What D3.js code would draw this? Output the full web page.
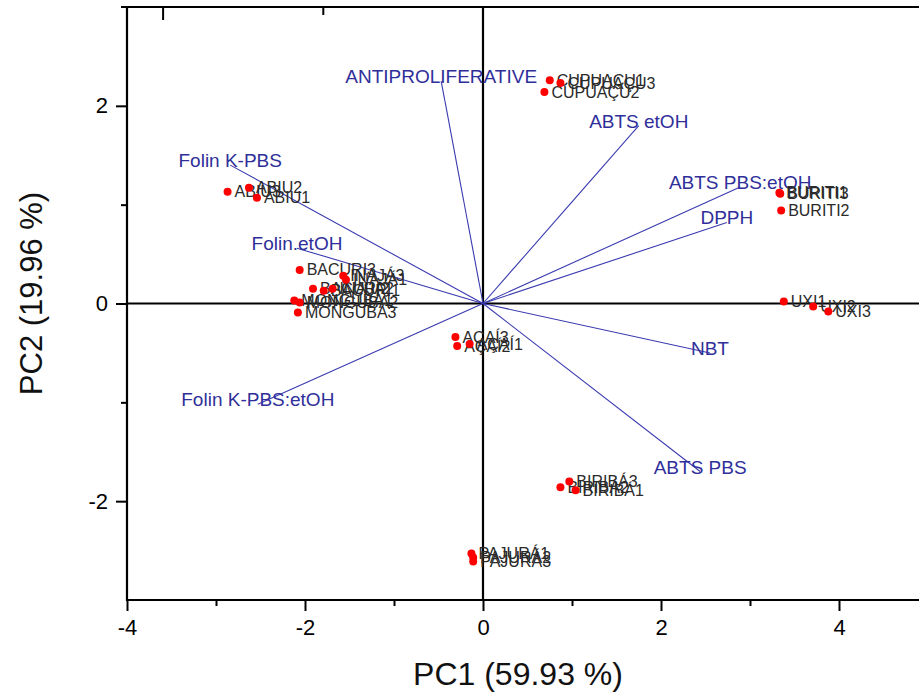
<!DOCTYPE html>
<html>
<head>
<meta charset="utf-8">
<script src="https://cdn.jsdelivr.net/npm/d3@7"></script>
<style>
  body { margin: 0; background: #fff; }
  svg { display: block; font-family: Arial, "Liberation Sans", sans-serif; }
</style>
</head>
<body>
<svg id="chart" width="919" height="700"></svg>
<script>
// PCA biplot: scores (fruits) + loadings (assays)

var obsNames = ["ABIU3", "ABIU2", "ABIU1",
  "CUPUAÇU1", "CUPUAÇU3", "CUPUAÇU2",
  "BURITI1", "BURITI3", "BURITI2",
  "UXI1", "UXI2", "UXI3",
  "AÇAÍ3", "AÇAÍ2", "AÇAÍ1",
  "BIRIBÁ3", "BIRIBÁ2", "BIRIBÁ1",
  "PAJURÁ1", "PAJURÁ2", "PAJURÁ3",
  "BACURI3", "INAJÁ3", "INAJÁ1", "BACURI2", "BACURI1", "INAJÁ2",
  "MONGUBA1", "MONGUBA2", "MONGUBA3"];
var obsPC1 = [-2.87, -2.63, -2.54,
  0.75, 0.87, 0.69,
  3.33, 3.34, 3.35,
  3.38, 3.71, 3.88,
  -0.31, -0.29, -0.15,
  0.97, 0.87, 1.04,
  -0.13, -0.11, -0.11,
  -2.06, -1.57, -1.54, -1.91, -1.79, -1.69,
  -2.12, -2.06, -2.08];
var obsPC2 = [1.13, 1.17, 1.07,
  2.26, 2.23, 2.14,
  1.12, 1.11, 0.94,
  0.02, -0.03, -0.08,
  -0.34, -0.43, -0.41,
  -1.80, -1.86, -1.89,
  -2.53, -2.57, -2.61,
  0.34, 0.28, 0.24, 0.15, 0.13, 0.15,
  0.03, 0.01, -0.09];

var varNames = ["ANTIPROLIFERATIVE", "ABTS etOH", "ABTS PBS:etOH", "DPPH", "NBT",
  "ABTS PBS", "Folin K-PBS:etOH", "Folin K-PBS", "Folin.etOH"];
var varPC1 = [-0.47, 1.75, 2.89, 2.74, 2.55, 2.44, -2.53, -2.84, -2.09];
var varPC2 = [2.25, 1.80, 1.18, 0.82, -0.50, -1.70, -1.02, 1.40, 0.56];

var xTicks = [-4, -2, 0, 2, 4];
var xMinor = [-3, -1, 1, 3];
var yTicks = [-2, 0, 2];
var yMinor = [-1, 1];

var svg = d3.select("#chart");
var margin = {left: 127, top: 7, right: 0, bottom: 100};
var width = 919, height = 700;

var x = d3.scaleLinear()
    .domain([-4, -4 + (width - margin.left) / 89])
    .range([margin.left, width]);
var y = d3.scaleLinear()
    .domain([-3, 3])
    .range([height - margin.bottom, margin.top]);

// plain hyphen for negatives, like the original
var fmt = function(d) { return String(d); };

// minor ticks first, so majors draw on top
svg.append("g")
    .attr("transform", "translate(0," + y(-3) + ")")
    .call(d3.axisBottom(x).tickValues(xMinor).tickSize(6).tickFormat(""))
    .call(function(g) { g.select(".domain").remove(); })
    .selectAll("line").attr("stroke-width", 2);

svg.append("g")
    .attr("transform", "translate(" + x(-4) + ",0)")
    .call(d3.axisLeft(y).tickValues(yMinor).tickSize(6).tickFormat(""))
    .call(function(g) { g.select(".domain").remove(); })
    .selectAll("line").attr("stroke-width", 2);

var gx = svg.append("g")
    .attr("transform", "translate(0," + y(-3) + ")")
    .call(d3.axisBottom(x).tickValues(xTicks).tickSize(11).tickPadding(8).tickFormat(fmt));
gx.select(".domain").remove();
gx.selectAll("line").attr("stroke-width", 2);
gx.selectAll("text").attr("font-size", 22).attr("fill", "#000")
    .attr("font-family", "Arial, 'Liberation Sans', sans-serif");

var gy = svg.append("g")
    .attr("transform", "translate(" + x(-4) + ",0)")
    .call(d3.axisLeft(y).tickValues(yTicks).tickSize(11).tickPadding(8).tickFormat(fmt));
gy.select(".domain").remove();
gy.selectAll("line").attr("stroke-width", 2);
gy.selectAll("text").attr("font-size", 22).attr("fill", "#000")
    .attr("font-family", "Arial, 'Liberation Sans', sans-serif");

// odd little ticks on the top edge
svg.append("g")
    .attr("transform", "translate(0," + y(3) + ")")
    .call(d3.axisBottom(x).tickValues([-3.6]).tickSize(13).tickFormat(""))
    .call(function(g) { g.select(".domain").remove(); })
    .selectAll("line").attr("stroke-width", 2);
svg.append("g")
    .attr("transform", "translate(0," + y(3) + ")")
    .call(d3.axisBottom(x).tickValues([-1.8]).tickSize(8).tickFormat(""))
    .call(function(g) { g.select(".domain").remove(); })
    .selectAll("line").attr("stroke-width", 2);

// frame: left, top, bottom
var frame = svg.append("g").attr("stroke", "#000").attr("stroke-width", 2.2);
frame.append("line").attr("x1", x(-4)).attr("x2", x(-4)).attr("y1", y(3) - 1).attr("y2", y(-3) + 1);
frame.append("line").attr("x1", x(-4) - 6).attr("x2", width).attr("y1", y(3)).attr("y2", y(3));
frame.append("line").attr("x1", x(-4) - 1).attr("x2", width).attr("y1", y(-3)).attr("y2", y(-3));

// zero lines
frame.append("line").attr("x1", x(-4)).attr("x2", width).attr("y1", y(0)).attr("y2", y(0));
frame.append("line").attr("x1", x(0)).attr("x2", x(0)).attr("y1", y(3)).attr("y2", y(-3));

// axis titles
svg.append("text")
    .attr("x", x(0) + 35)
    .attr("y", 685)
    .attr("text-anchor", "middle")
    .attr("font-size", 32)
    .attr("fill", "#111")
    .text("PC1 (59.93 %)");

svg.append("text")
    .attr("transform", "translate(42," + (y(0) - 10) + ") rotate(-90)")
    .attr("text-anchor", "middle")
    .attr("font-size", 31)
    .attr("fill", "#111")
    .text("PC2 (19.96 %)");

// loading vectors
var vecs = varNames.map(function(n, i) { return {name: n, pc1: varPC1[i], pc2: varPC2[i]}; });

svg.append("g").selectAll("line")
    .data(vecs)
    .enter().append("line")
      .attr("x1", x(0)).attr("y1", y(0))
      .attr("x2", function(d) { return x(d.pc1); })
      .attr("y2", function(d) { return y(d.pc2); })
      .attr("stroke", "#3a3ab0")
      .attr("stroke-width", 1.1);

svg.append("g").selectAll("text")
    .data(vecs)
    .enter().append("text")
      .attr("x", function(d) { return x(d.pc1); })
      .attr("y", function(d) { return y(d.pc2) + 2; })
      .attr("text-anchor", "middle")
      .attr("font-size", 19)
      .attr("fill", "#2f2f9a")
      .text(function(d) { return d.name; });

// scores
var obs = obsNames.map(function(n, i) { return {name: n, pc1: obsPC1[i], pc2: obsPC2[i]}; });

var pts = svg.append("g");
pts.selectAll("text")
    .data(obs)
    .enter().append("text")
      .attr("x", function(d) { return x(d.pc1) + 7; })
      .attr("y", function(d) { return y(d.pc2); })
      .attr("dy", "0.35em")
      .attr("font-size", 16)
      .attr("fill", "#2a2a2a")
      .text(function(d) { return d.name; });

pts.selectAll("circle")
    .data(obs)
    .enter().append("circle")
      .attr("cx", function(d) { return x(d.pc1); })
      .attr("cy", function(d) { return y(d.pc2); })
      .attr("r", 4)
      .attr("fill", "#ff0000");
</script>
</body>
</html>
